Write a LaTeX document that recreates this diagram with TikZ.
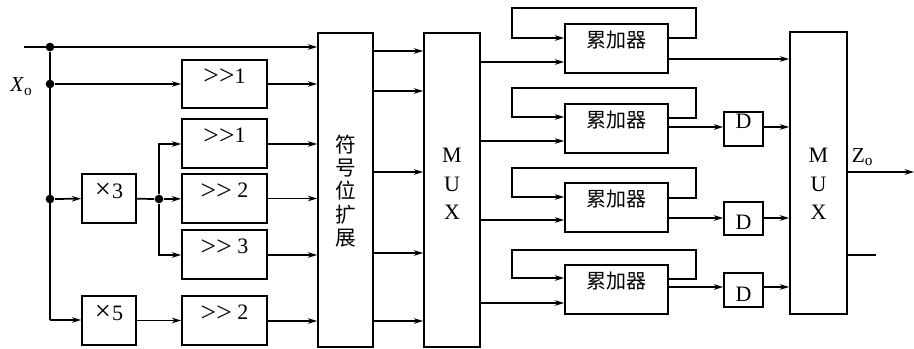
\documentclass[tikz,border=0pt]{standalone}
\usepackage{graphicx}
\usepackage{fontspec}
\setmainfont{Liberation Serif}
\newfontfamily\cjk{Noto Sans CJK SC}
\usetikzlibrary{arrows.meta,fit}
\newcommand\bx[6]{\node[blk, fit={(#2,#3) (#4,#5)}] (#1) {#6};}
\newcommand\gtx{\raisebox{-0.06em}{\scalebox{1.25}{>}}}
\newcommand\shr{\gtx\kern0.02em\gtx}
\newcommand\tms{\raisebox{-0.04em}{\scalebox{1.3}{×}}\kern0.05em}
\begin{document}
\begin{tikzpicture}[x=0.75pt,y=-0.75pt, line width=1.3pt,
  >={Stealth[length=7pt,width=4.2pt]},
  blk/.style={draw, line width=1.3pt, inner sep=0pt, font=\fontsize{16.5}{17}\selectfont},
  dot/.style={circle, fill, inner sep=0pt, minimum size=6.5pt},
  lbl/.style={inner sep=0pt, font=\fontsize{16}{16}\selectfont}]
\useasboundingbox[fill=white] (0,0) rectangle (914,349);

% left blocks
\bx{s1}{182}{60}{267}{108}{\shr1}
\bx{s2}{182}{119}{267}{168}{\shr1}
\bx{m3}{82}{174}{136}{223}{\tms3}
\bx{s3}{182}{174}{267}{223}{\shr\ 2}
\bx{s4}{182}{230}{267}{279}{\shr\ 3}
\bx{m5}{82}{296}{136}{345}{\tms5}
\bx{s5}{182}{296}{267}{345}{\shr\ 2}

\bx{sx}{318}{33}{373}{347}{}
\node[align=center, inner sep=0pt, font=\cjk\fontsize{15.5}{17.5}\selectfont] (sxt) at (345.5,191) {符\\号\\位\\扩\\展};
\bx{mx1}{424}{33}{480}{347}{}
\node[align=center, inner sep=0pt, font=\fontsize{16.5}{21.4}\selectfont] (mxt1) at (452,184) {M\\U\\X};

% accumulators
\bx{a1}{565}{24}{668}{73}{\cjk\fontsize{15}{15}\selectfont 累加器}
\bx{a2}{565}{104}{668}{153}{\cjk\fontsize{15}{15}\selectfont 累加器}
\bx{a3}{565}{183}{668}{232}{\cjk\fontsize{15}{15}\selectfont 累加器}
\bx{a4}{565}{265}{668}{314}{\cjk\fontsize{15}{15}\selectfont 累加器}

\bx{D2}{724}{112}{763}{146}{D}
\bx{D3}{724}{202}{763}{235}{}
\node[inner sep=0pt, font=\fontsize{16.5}{17}\selectfont] (D3t) at (743.5,222) {D};
\bx{D4}{724}{273}{763}{307}{}
\node[inner sep=0pt, font=\fontsize{16.5}{17}\selectfont] (D4t) at (743.5,294) {D};

\bx{mx2}{790}{32}{847}{314}{}
\node[align=center, inner sep=0pt, font=\fontsize{16.5}{21.4}\selectfont] (mxt2) at (818.5,184) {M\\U\\X};

% input
\coordinate (in0) at (24,47);
\node[dot] (d1) at (50,47) {};
\node[dot] (d2) at (50,84) {};
\node[dot] (d3) at (50,199) {};
\node[dot] (d4) at (159,199) {};
\coordinate (c5) at (50,320);
\node[lbl] (xo) at (21,87) {\textit{X}\raisebox{-0.4ex}{\fontsize{11.5}{11.5}\selectfont o}};

\draw[->] (in0) -- (sx.west |- in0);
\draw (d1) -- (c5);
\draw[->] (d2) -- (s1.west |- d2);
\draw[->] (d3) -- (m3);
\draw[->] (c5) -- (m5.west |- c5);
\draw (m3) -- (d4);
\draw[->] (d4) -- (s3);
\draw[->] (d4) |- (s2.west |- 0,144);
\draw[->] (d4) |- (s4.west |- 0,255);
\draw[->] (m5) -- (s5);

\draw[->] (s1.east |- d2) -- (sx.west |- d2);
\draw[->] (s2.east |- 0,144) -- (sx.west |- 0,144);
\draw[->] (s3) -- (sx.west |- s3);
\draw[->] (s4.east |- 0,255) -- (sx.west |- 0,255);
\draw[->] (s5.east |- 0,321) -- (sx.west |- 0,321);

% sign ext -> MUX
\foreach \yy in {51,91,172,253,321}{
  \draw[->] (sx.east |- 0,\yy) -- (mx1.west |- 0,\yy);
}

% MUX -> accumulators
\draw[->] (mx1.east |- 0,62) -- (a1.west |- 0,62);
\draw[->] (mx1.east |- 0,141) -- (a2.west |- 0,141);
\draw[->] (mx1.east |- 0,220) -- (a3.west |- 0,220);
\draw[->] (mx1.east |- 0,303) -- (a4.west |- 0,303);

% feedback loops
\draw[->] (a1.east |- 0,38) -- (696,38) -- (696,8) -- (512,8) -- (512,38) -- (a1.west |- 0,38);
\draw[->] (a2.east |- 0,118) -- (696,118) -- (696,88) -- (512,88) -- (512,117) -- (a2.west |- 0,117);
\draw[->] (a3.east |- 0,198) -- (696,198) -- (696,168) -- (512,168) -- (512,197) -- (a3.west |- 0,197);
\draw[->] (a4.east |- 0,279) -- (696,279) -- (696,250) -- (512,250) -- (512,278) -- (a4.west |- 0,278);

% outputs
\draw[->] (a1.east |- 0,59) -- (mx2.west |- 0,59);
\draw[->] (a2.east |- 0,127) -- (D2.west |- 0,127);
\draw[->] (D2.east |- 0,127) -- (mx2.west |- 0,127);
\draw[->] (a3.east |- 0,218) -- (D3.west |- 0,218);
\draw[->] (D3.east |- 0,218) -- (mx2.west |- 0,218);
\draw[->] (a4.east |- 0,287) -- (D4.west |- 0,287);
\draw[->] (D4.east |- 0,287) -- (mx2.west |- 0,287);

\coordinate (zout) at (914,172);
\draw[->] (mx2.east |- zout) -- (zout);
\coordinate (zx) at (876,255);
\draw (mx2.east |- zx) -- (zx);
\node[lbl, anchor=south west] (zo) at (851,167) {Z\raisebox{-0.4ex}{\fontsize{11.5}{11.5}\selectfont o}};
\end{tikzpicture}
\end{document}
